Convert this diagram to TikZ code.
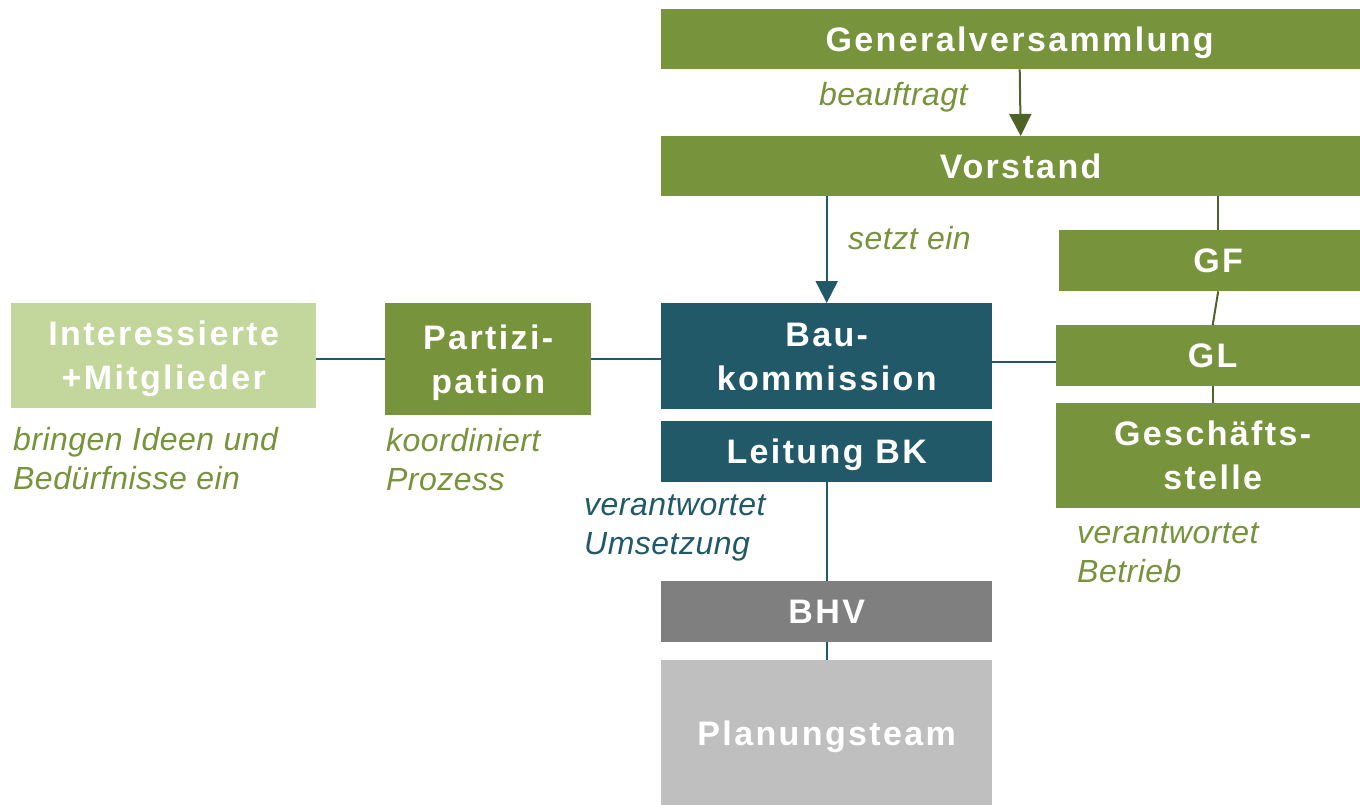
\documentclass[tikz,border=0pt]{standalone}
\usepackage{fontspec}
\setmainfont{Liberation Sans}
\newfontfamily\boxfnt[LetterSpace=7]{Liberation Sans}
\newfontfamily\lblfnt[LetterSpace=1.5]{Liberation Sans}
\usetikzlibrary{arrows.meta}
\definecolor{cgreen}{HTML}{77933C}
\definecolor{clight}{HTML}{C3D69B}
\definecolor{cteal}{HTML}{215968}
\definecolor{cgray}{HTML}{7F7F7F}
\definecolor{clgray}{HTML}{BFBFBF}
\definecolor{cdark}{HTML}{4F6228}
\begin{document}
\begin{tikzpicture}[x=1pt,y=-1pt,
  box/.style={rectangle, inner sep=0pt, anchor=north west, text=white, align=center,
    text height=24.5pt, text depth=0pt,
    font=\boxfnt\bfseries\fontsize{34}{44}\selectfont},
  twoline/.style={text height=68.5pt, text depth=0pt},
  lbl/.style={inner sep=0pt, anchor=base west, align=left,
    font=\lblfnt\itshape\fontsize{32}{39}\selectfont},
  tline/.style={draw=cteal, line width=2pt},
  gline/.style={draw=cdark, line width=2pt}
]
\path[use as bounding box, clip] (0,0) rectangle (1360,805);
\fill[white] (0,0) rectangle (1360,805);
% boxes
\node[box, fill=cgreen, minimum width=717pt, minimum height=60pt] (gv) at (661,9) {Generalversammlung};
\node[box, fill=cgreen, minimum width=719pt, minimum height=60pt] (vor) at (661,136) {Vorstand};
\node[box, fill=cgreen, minimum width=318pt, minimum height=61pt] (gf) at (1059,230) {GF};
\node[box, fill=cgreen, minimum width=313pt, minimum height=61pt] (gl) at (1056,325) {GL};
\node[box, twoline, fill=cgreen, minimum width=313pt, minimum height=105pt] (gs) at (1056,403) {Geschäfts-\\stelle};
\node[box, twoline, fill=clight, minimum width=305pt, minimum height=105pt] (int) at (11,303) {Interessierte\\+Mitglieder};
\node[box, twoline, fill=cgreen, minimum width=206pt, minimum height=112pt] (part) at (385,303) {Partizi-\\pation};
\node[box, twoline, fill=cteal, minimum width=331pt, minimum height=106pt] (bau) at (661,303) {Bau-\\kommission};
\node[box, fill=cteal, minimum width=331pt, minimum height=61pt] (lbk) at (661,421) {Leitung BK};
\node[box, fill=cgray, minimum width=331pt, minimum height=61pt] (bhv) at (661,581) {BHV};
\node[box, fill=clgray, minimum width=331pt, minimum height=146pt] (plan) at (661,660) {Planungsteam};
% connectors
\draw[gline, -{Triangle[length=22pt,width=22pt]}, fill=cdark] (gv.south) -- (vor.north);
\draw[tline, -{Triangle[length=22pt,width=22pt]}, fill=cteal] (vor.south -| bau.north) -- (bau.north);
\draw[gline] (gf.north |- vor.south) -- (gf.north);
\draw[gline] (gf.south) -- (gl.north);
\draw[gline] (gl.south) -- (gs.north);
\draw[tline] (int.east |- part.west) -- (part.west);
\draw[tline] (part.east) -- (part.east -| bau.west);
\draw[tline] ([yshift=-6pt]bau.east) -- ([yshift=-6pt]bau.east -| gl.west);
\draw[tline] (lbk.south) -- (bhv.north);
\draw[tline] (bhv.south) -- (plan.north);
% labels
\node[lbl, text=cgreen] (l1) at (819,106) {beauftragt};
\node[lbl, text=cgreen] (l2) at (848,249) {setzt ein};
\node[lbl, text=cgreen] (l3) at (13,489) {bringen Ideen und\\Bedürfnisse ein};
\node[lbl, text=cgreen] (l4) at (386,490) {koordiniert\\Prozess};
\node[lbl, text=cteal] (l5) at (584,554) {verantwortet\\Umsetzung};
\node[lbl, text=cgreen] (l6) at (1077,582) {verantwortet\\Betrieb};
\end{tikzpicture}
\end{document}
